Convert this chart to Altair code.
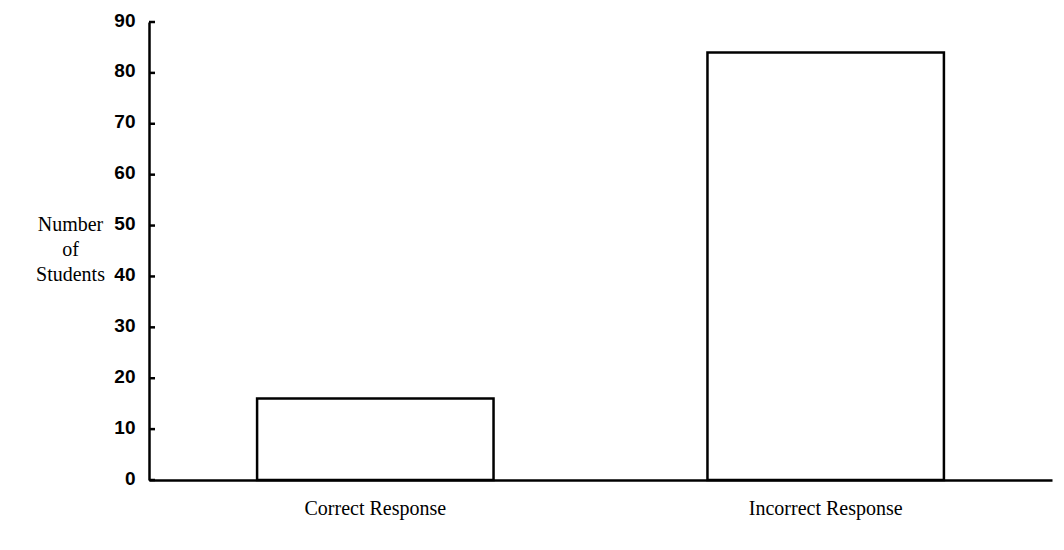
import altair as alt
import pandas as pd

categories = ["Correct Response", "Incorrect Response"]
students = [16, 84]
y_ticks = [0, 10, 20, 30, 40, 50, 60, 70, 80, 90]

bars_df = pd.DataFrame({"response": categories, "students": students})
ticks_df = pd.DataFrame({"tick": y_ticks})

y_scale = alt.Scale(domain=[0, 90], nice=False, zero=True)
y_title = ["Number", "of", "Students"]
y_axis = alt.Axis(values=y_ticks, tickSize=0, labelPadding=14,
                  labelFont="Liberation Sans", labelFontWeight="bold",
                  labelFontSize=19, labelColor="black", labelOffset=-2,
                  domainColor="black", domainWidth=2.5, grid=False,
                  titleAngle=0, titleFont="Liberation Serif", titleFontSize=20,
                  titleFontWeight="normal", titleColor="black",
                  titleAlign="center", titleBaseline="alphabetic",
                  titleLineHeight=25, titleX=-79, titleY=208)

bars = alt.Chart(bars_df).mark_bar(
    fill="white", stroke="black", strokeWidth=2.5
).encode(
    x=alt.X("response:N", sort=categories, title=None,
            scale=alt.Scale(paddingInner=0.475, paddingOuter=0.24),
            axis=alt.Axis(labelAngle=0, labelFont="Liberation Serif", labelFontSize=20,
                          labelColor="black", labelPadding=18, ticks=False,
                          domainColor="black", domainWidth=2.5, grid=False)),
    y=alt.Y("students:Q", scale=y_scale, title=y_title, axis=y_axis),
)

ticks = alt.Chart(ticks_df).mark_rule(color="black", strokeWidth=2.5).encode(
    y=alt.Y("tick:Q", scale=y_scale, title=y_title, axis=y_axis),
    x=alt.value(0),
    x2=alt.value(6),
)

chart = alt.layer(bars, ticks).properties(
    width=903, height=458,
    background="white",
    autosize=alt.AutoSizeParams(type="none"),
    padding={"left": 141, "top": 14, "right": 4, "bottom": 60},
).configure_view(stroke=None)

chart.save("out.html", embed_options={"renderer": "svg", "actions": False})
